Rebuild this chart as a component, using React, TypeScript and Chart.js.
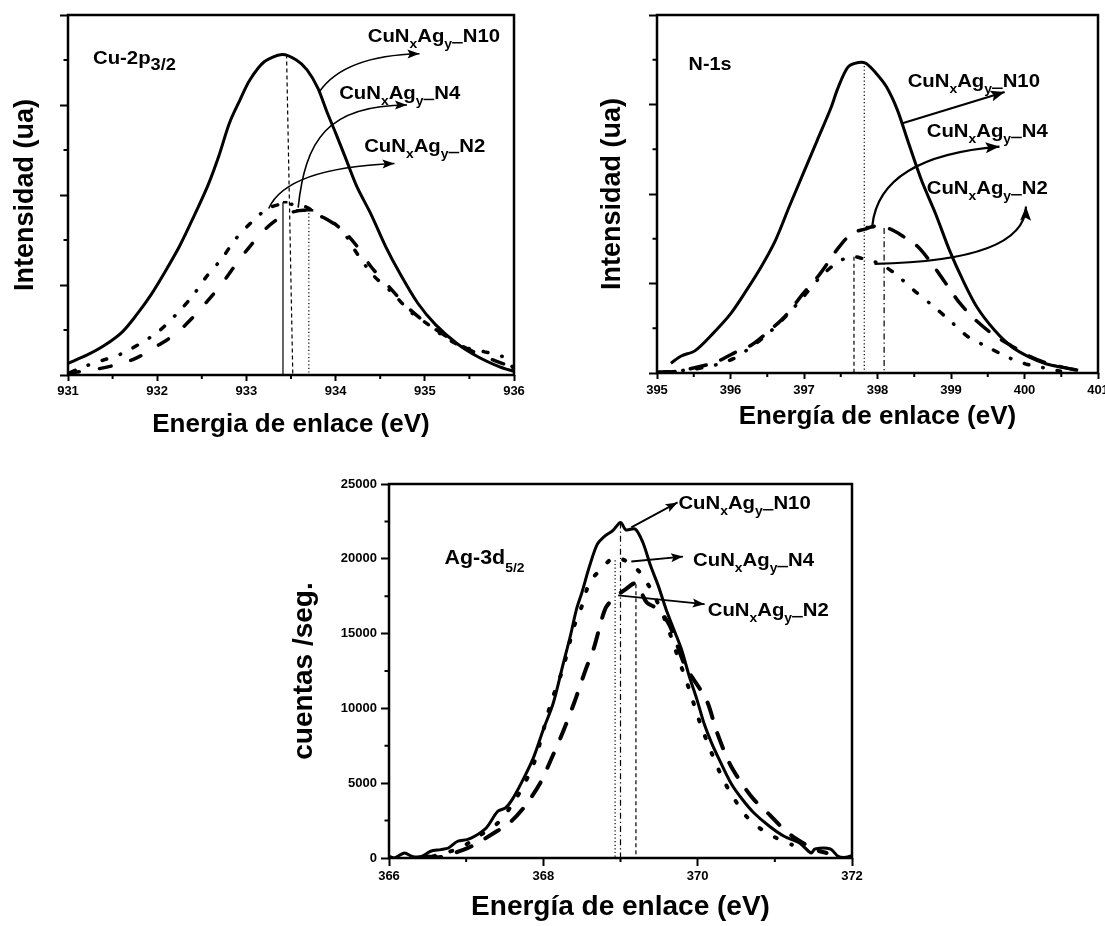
import React, { useEffect, useRef } from 'react';
import { Chart, registerables } from 'chart.js';

Chart.register(...registerables);

const FONT = '"Liberation Sans", Arial, Helvetica, sans-serif';
Chart.defaults.font.family = FONT;
Chart.defaults.color = '#000';

const SERIES = ['N10', 'N4', 'N2'];

// ---------- Panel 1 : Cu-2p3/2 ----------
const cuN10X = [931, 931.21, 931.41, 931.61, 931.77, 931.93, 932.09, 932.25, 932.41, 932.57, 932.69, 932.81, 932.93, 933.04, 933.2, 933.4, 933.56, 933.68, 933.8, 933.9, 934.0, 934.12, 934.24, 934.4, 934.56, 934.72, 934.92, 935.12, 935.36, 935.6, 935.84, 936];
const cuN10Y = [0.13, 0.22, 0.33, 0.48, 0.67, 0.89, 1.15, 1.43, 1.76, 2.11, 2.43, 2.8, 3.06, 3.28, 3.48, 3.56, 3.5, 3.39, 3.19, 2.93, 2.69, 2.39, 2.09, 1.78, 1.43, 1.13, 0.8, 0.56, 0.35, 0.2, 0.09, 0.04];
const cuN4X = [931, 931.29, 931.53, 931.77, 932.01, 932.21, 932.41, 932.57, 932.73, 932.89, 933.04, 933.2, 933.36, 933.48, 933.64, 933.76, 933.92, 934.08, 934.24, 934.4, 934.6, 934.8, 935.0, 935.24, 935.44, 935.68, 935.92, 936];
const cuN4Y = [0.02, 0.06, 0.11, 0.19, 0.33, 0.46, 0.65, 0.83, 1.02, 1.24, 1.43, 1.61, 1.74, 1.8, 1.83, 1.8, 1.72, 1.61, 1.43, 1.2, 0.98, 0.76, 0.59, 0.43, 0.31, 0.2, 0.11, 0.07];
const cuN2X = [931.03, 931.17, 931.41, 931.61, 931.81, 932.01, 932.21, 932.39, 932.55, 932.73, 932.87, 933.06, 933.24, 933.42, 933.66, 933.84, 933.98, 934.1, 934.24, 934.42, 934.64, 934.84, 935.04, 935.24, 935.44, 935.66, 935.88, 936];
const cuN2Y = [0.03, 0.09, 0.17, 0.24, 0.35, 0.48, 0.67, 0.87, 1.09, 1.3, 1.5, 1.7, 1.85, 1.9, 1.87, 1.76, 1.69, 1.57, 1.35, 1.11, 0.91, 0.7, 0.56, 0.41, 0.31, 0.26, 0.2, 0.07];
const cuXMinor = [931.5, 932.5, 933.5, 934.5, 935.5];
const cuYMinor = [0.5, 1.5, 2.5, 3.5];
const cuLabelX = [934.36, 934.04, 934.32];
const cuLabelY = [3.7, 3.07, 2.48];
const cuArrows = [
  [933.82, 3.15, 934.1, 3.55, 934.94, 3.57],
  [933.58, 1.86, 933.66, 2.6, 933.9, 3.0, 934.8, 3.0],
  [933.25, 1.85, 933.45, 2.3, 934.66, 2.35],
];
const cuMarks = [
  [933.41, 1.92, 933.41, 0],
  [933.45, 3.56, 933.52, 0],
  [933.7, 1.8, 933.7, 0],
];
const cuMarkStyles = ['solid', 'dash', 'dot'];
const cuCaps = [
  [933.41, 933.46, 1.92],
  [933.56, 933.75, 1.83],
];
const cuPanelPos = [931.28, 3.46];

// ---------- Panel 2 : N-1s ----------
const nN10X = [395.19, 395.33, 395.52, 395.76, 396.0, 396.23, 396.42, 396.61, 396.8, 396.99, 397.18, 397.37, 397.46, 397.6, 397.74, 397.84, 397.98, 398.12, 398.27, 398.41, 398.6, 398.79, 398.98, 399.16, 399.35, 399.59, 399.83, 400.06, 400.3, 400.54, 400.73];
const nN10Y = [0.11, 0.19, 0.25, 0.44, 0.66, 0.94, 1.19, 1.48, 1.86, 2.23, 2.6, 2.97, 3.18, 3.42, 3.47, 3.46, 3.35, 3.2, 2.94, 2.6, 2.15, 1.78, 1.37, 1.04, 0.74, 0.48, 0.29, 0.18, 0.1, 0.06, 0.03];
const nN4X = [395.02, 395.28, 395.57, 395.8, 396.04, 396.28, 396.51, 396.75, 396.99, 397.22, 397.46, 397.65, 397.84, 397.96, 398.17, 398.36, 398.55, 398.74, 398.93, 399.12, 399.35, 399.59, 399.83, 400.06, 400.3, 400.54, 400.73];
const nN4Y = [0.01, 0.02, 0.07, 0.12, 0.22, 0.31, 0.46, 0.64, 0.89, 1.11, 1.39, 1.56, 1.61, 1.64, 1.61, 1.52, 1.41, 1.22, 1.0, 0.78, 0.58, 0.42, 0.3, 0.19, 0.11, 0.06, 0.03];
const nN2X = [395.09, 395.47, 395.8, 396.04, 396.28, 396.51, 396.75, 396.99, 397.22, 397.46, 397.65, 397.79, 398.03, 398.24, 398.5, 398.74, 398.98, 399.24, 399.5, 399.76, 400.02, 400.25, 400.49];
const nN2Y = [0.01, 0.04, 0.09, 0.16, 0.29, 0.44, 0.63, 0.85, 1.07, 1.24, 1.3, 1.28, 1.22, 1.11, 0.92, 0.76, 0.59, 0.4, 0.29, 0.18, 0.1, 0.06, 0.02];
const nXMinor = [395.5, 396.5, 397.5, 398.5, 399.5, 400.5];
const nYMinor = [0.5, 1.5, 2.5, 3.5];
const nLabelX = [398.41, 398.67, 398.67];
const nLabelY = [3.19, 2.64, 2.0];
const nArrows = [
  [398.34, 2.79, 399.73, 3.14],
  [397.93, 1.65, 398.03, 2.42, 399.66, 2.53],
  [397.96, 1.22, 400.0, 1.25, 400.02, 1.86],
];
const nMarks = [
  [397.68, 1.3, 397.68, 0],
  [397.82, 3.47, 397.82, 0],
  [398.09, 1.62, 398.09, 0],
];
const nMarkStyles = ['dash', 'dot', 'dashdot'];
const nCaps = [[397.84, 397.96, 1.63]];
const nPanelPos = [395.43, 3.38];

// ---------- Panel 3 : Ag-3d5/2 ----------
const agN10X = [366, 366.07, 366.2, 366.3, 366.42, 366.54, 366.67, 366.77, 366.89, 367.01, 367.11, 367.26, 367.41, 367.51, 367.61, 367.76, 367.88, 368.0, 368.13, 368.25, 368.35, 368.43, 368.5, 368.6, 368.7, 368.8, 368.9, 369.0, 369.07, 369.19, 369.29, 369.39, 369.49, 369.59, 369.69, 369.79, 369.89, 369.99, 370.08, 370.18, 370.28, 370.43, 370.58, 370.73, 370.93, 371.12, 371.32, 371.47, 371.52, 371.72, 371.82, 371.92, 372];
const agN10Y = [110, 0, 335, 110, 110, 450, 560, 670, 1120, 1230, 1450, 2010, 3125, 3350, 4020, 5470, 6810, 8590, 10380, 12830, 14840, 16630, 17750, 19530, 20980, 21540, 21880, 22430, 21940, 21990, 21090, 19530, 18190, 16630, 15290, 13950, 12170, 10600, 9040, 7700, 6580, 5020, 3910, 3010, 2120, 1450, 1000, 335, 600, 600, 110, 45, 156];
const agN4X = [366.57, 366.92, 367.16, 367.41, 367.61, 367.76, 367.88, 367.98, 368.1, 368.25, 368.4, 368.5, 368.6, 368.75, 368.93, 369.19, 369.34, 369.47, 369.59, 369.74, 369.89, 370.03, 370.18, 370.33, 370.48, 370.63, 370.83, 371.02, 371.22];
const agN4Y = [110, 670, 1450, 2340, 3680, 5020, 6360, 8150, 10380, 12610, 15510, 16850, 18420, 19310, 20100, 19420, 18420, 17190, 15740, 13500, 11270, 9040, 7030, 5250, 3910, 2790, 1900, 1340, 890];
const agN2X = [366.47, 366.67, 366.97, 367.11, 367.36, 367.56, 367.76, 367.96, 368.1, 368.25, 368.4, 368.55, 368.65, 368.8, 368.9, 369.05, 369.2, 369.34, 369.49, 369.64, 369.84, 370.11, 370.25, 370.41, 370.57, 370.73, 370.93, 371.12, 371.27, 371.52, 371.67];
const agN2Y = [110, 67, 560, 890, 1670, 2340, 3460, 5020, 6580, 8370, 10380, 12610, 13950, 16630, 17300, 17900, 18350, 17080, 16630, 15510, 12830, 10600, 8400, 6360, 5000, 3900, 2900, 1900, 1300, 560, 335];
const agXMinor = [367, 369, 371];
const agYMinor = [2500, 7500, 12500, 17500, 22500];
const agLabelX = [369.75, 369.94, 370.13];
const agLabelY = [23330, 19530, 16180];
const agArrows = [
  [369.14, 22100, 369.74, 23770],
  [369.14, 19820, 369.81, 20150],
  [368.97, 17560, 370.09, 16970],
];
const agMarks = [
  [368.93, 19900, 368.93, 0],
  [369.0, 22430, 369.0, 0],
  [369.2, 18300, 369.2, 0],
];
const agMarkStyles = ['dot', 'dashdot', 'dash'];
const agCaps: number[][] = [];
const agPanelPos = [366.72, 19640];

// ---------- drawing helpers ----------
type Run = { t?: string; size?: number; dy?: number; gap?: number };

const MARK_DASH: Record<string, number[]> = {
  solid: [],
  dash: [4, 3],
  dot: [1.2, 2.4],
  dashdot: [6, 3, 1.2, 3],
};

const STRETCH = 1.07;

function drawRich(ctx: CanvasRenderingContext2D, x: number, y: number, runs: Run[], size: number) {
  ctx.save();
  ctx.translate(x, y);
  ctx.scale(STRETCH, 1);
  ctx.textAlign = 'left';
  ctx.textBaseline = 'alphabetic';
  ctx.fillStyle = '#000';
  let cx = 0;
  for (const r of runs) {
    if (r.gap) {
      ctx.fillRect(cx, 0, r.gap, 1.5);
      cx += r.gap;
      continue;
    }
    const fs = r.size ?? size;
    ctx.font = `bold ${fs}px ${FONT}`;
    ctx.fillText(r.t || '', cx, r.dy ?? 0);
    cx += ctx.measureText(r.t || '').width;
  }
  ctx.restore();
}

function seriesRuns(name: string): Run[] {
  return [
    { t: 'CuN' },
    { t: 'x', size: 13, dy: 6 },
    { t: 'Ag' },
    { t: 'y', size: 13, dy: 6 },
    { gap: 10 },
    { t: name },
  ];
}

function arrowHead(ctx: CanvasRenderingContext2D, x: number, y: number, ang: number, len: number, half: number) {
  ctx.save();
  ctx.translate(x, y);
  ctx.rotate(ang);
  ctx.beginPath();
  ctx.moveTo(0, 0);
  ctx.lineTo(-len, -half);
  ctx.lineTo(-len * 0.8, 0);
  ctx.lineTo(-len, half);
  ctx.closePath();
  ctx.fill();
  ctx.restore();
}

type SeriesSpec = { x: number[]; y: number[]; dash: number[]; width: number };

type Spec = {
  canvas: number[];
  series: SeriesSpec[];
  xMin: number; xMax: number; xStep: number;
  yMax: number; yStep: number; yLabels: boolean;
  xMinor: number[]; yMinor: number[];
  xTickLen: number; yTickLen: number; xTickPad: number; yTickPad: number;
  xTitle: string; yTitle: string;
  xTitleSize: number; yTitleSize: number; xTitlePad: number; yTitlePad: number;
  yAxisW: number; xAxisH: number; padTop: number; padRight: number;
  panelRuns: Run[]; panelSize: number; panelPos: number[];
  labelX: number[]; labelY: number[]; labelSize: number;
  arrows: number[][]; arrowWidth: number; headLen: number; headHalf: number;
  marks: number[][]; markStyles: string[]; caps: number[][];
};

function makeDecor(spec: Spec) {
  return {
    id: 'decor',
    afterDraw(chart: any) {
      const ctx: CanvasRenderingContext2D = chart.ctx;
      const a = chart.chartArea;
      const X = (v: number) => chart.scales.x.getPixelForValue(v);
      const Y = (v: number) => chart.scales.y.getPixelForValue(v);
      ctx.save();
      ctx.strokeStyle = '#000';
      ctx.fillStyle = '#000';
      ctx.lineCap = 'butt';

      // minor ticks
      ctx.setLineDash([]);
      ctx.lineWidth = 2;
      ctx.beginPath();
      spec.xMinor.forEach((v) => {
        const p = X(v);
        ctx.moveTo(p, a.bottom);
        ctx.lineTo(p, a.bottom + 4);
      });
      spec.yMinor.forEach((v) => {
        const p = Y(v);
        ctx.moveTo(a.left, p);
        ctx.lineTo(a.left - 4.5, p);
      });
      ctx.stroke();

      // peak position markers
      ctx.lineWidth = 1.2;
      spec.marks.forEach((m, i) => {
        ctx.setLineDash(MARK_DASH[spec.markStyles[i]]);
        ctx.beginPath();
        ctx.moveTo(X(m[0]), Y(m[1]));
        ctx.lineTo(X(m[2]), Y(m[3]));
        ctx.stroke();
      });
      ctx.setLineDash([]);
      ctx.lineWidth = 2.5;
      spec.caps.forEach((c) => {
        ctx.beginPath();
        ctx.moveTo(X(c[0]), Y(c[2]));
        ctx.lineTo(X(c[1]), Y(c[2]));
        ctx.stroke();
      });

      // arrows
      ctx.lineWidth = spec.arrowWidth;
      spec.arrows.forEach((ar) => {
        const p: number[][] = [];
        for (let k = 0; k < ar.length; k += 2) p.push([X(ar[k]), Y(ar[k + 1])]);
        const end = p[p.length - 1];
        const prev = p[p.length - 2];
        const ang = Math.atan2(end[1] - prev[1], end[0] - prev[0]);
        ctx.beginPath();
        ctx.moveTo(p[0][0], p[0][1]);
        if (p.length === 2) ctx.lineTo(end[0], end[1]);
        else if (p.length === 3) ctx.quadraticCurveTo(p[1][0], p[1][1], end[0], end[1]);
        else ctx.bezierCurveTo(p[1][0], p[1][1], p[2][0], p[2][1], end[0], end[1]);
        ctx.stroke();
        arrowHead(ctx, end[0], end[1], ang, spec.headLen, spec.headHalf);
      });

      // frame
      ctx.lineWidth = 2.5;
      ctx.strokeRect(a.left, a.top, a.right - a.left, a.bottom - a.top);

      // texts
      drawRich(ctx, X(spec.panelPos[0]), Y(spec.panelPos[1]), spec.panelRuns, spec.panelSize);
      spec.labelX.forEach((lx, i) => {
        drawRich(ctx, X(lx), Y(spec.labelY[i]), seriesRuns(SERIES[i]), spec.labelSize);
      });
      ctx.restore();
    },
  };
}

const cuSpec: Spec = {
  canvas: [0, 0, 560, 445],
  series: [
    { x: cuN10X, y: cuN10Y, dash: [], width: 3 },
    { x: cuN4X, y: cuN4Y, dash: [11.5, 20.5], width: 3.5 },
    { x: cuN2X, y: cuN2Y, dash: [5, 14, 0.5, 14], width: 3.5 },
  ],
  xMin: 931, xMax: 936, xStep: 1, yMax: 4, yStep: 1, yLabels: false,
  xMinor: cuXMinor, yMinor: cuYMinor,
  xTickLen: 6, yTickLen: 8, xTickPad: 3, yTickPad: 4,
  xTitle: 'Energia de enlace (eV)', yTitle: 'Intensidad (ua)',
  xTitleSize: 26, yTitleSize: 27, xTitlePad: 5, yTitlePad: 9,
  yAxisW: 68, xAxisH: 70, padTop: 15, padRight: 46,
  panelRuns: [{ t: 'Cu-2p' }, { t: '3/2', size: 17, dy: 6 }], panelSize: 19, panelPos: cuPanelPos,
  labelX: cuLabelX, labelY: cuLabelY, labelSize: 19,
  arrows: cuArrows, arrowWidth: 1.6, headLen: 12, headHalf: 4.5,
  marks: cuMarks, markStyles: cuMarkStyles, caps: cuCaps,
};

const nSpec: Spec = {
  canvas: [560, 0, 545, 445],
  series: [
    { x: nN10X, y: nN10Y, dash: [], width: 3 },
    { x: nN4X, y: nN4Y, dash: [16.5, 15.5], width: 3.5 },
    { x: nN2X, y: nN2Y, dash: [5, 14, 0.5, 14], width: 3.5 },
  ],
  xMin: 395, xMax: 401, xStep: 1, yMax: 4, yStep: 1, yLabels: false,
  xMinor: nXMinor, yMinor: nYMinor,
  xTickLen: 6, yTickLen: 8, xTickPad: 4, yTickPad: 4,
  xTitle: 'Energía de enlace (eV)', yTitle: 'Intensidad (ua)',
  xTitleSize: 26, yTitleSize: 27, xTitlePad: 13, yTitlePad: 36,
  yAxisW: 97, xAxisH: 72, padTop: 15, padRight: 7,
  panelRuns: [{ t: 'N-1s' }], panelSize: 18.5, panelPos: nPanelPos,
  labelX: nLabelX, labelY: nLabelY, labelSize: 19,
  arrows: nArrows, arrowWidth: 2.2, headLen: 14, headHalf: 5.5,
  marks: nMarks, markStyles: nMarkStyles, caps: nCaps,
};

const agSpec: Spec = {
  canvas: [280, 460, 600, 466],
  series: [
    { x: agN10X, y: agN10Y, dash: [], width: 3 },
    { x: agN4X, y: agN4Y, dash: [2, 16], width: 4 },
    { x: agN2X, y: agN2Y, dash: [16, 16], width: 4 },
  ],
  xMin: 366, xMax: 372, xStep: 2, yMax: 25000, yStep: 5000, yLabels: true,
  xMinor: agXMinor, yMinor: agYMinor,
  xTickLen: 8, yTickLen: 8, xTickPad: 3, yTickPad: 4,
  xTitle: 'Energía de enlace (eV)', yTitle: 'cuentas /seg.',
  xTitleSize: 28, yTitleSize: 28, xTitlePad: 2, yTitlePad: 7,
  yAxisW: 109, xAxisH: 68, padTop: 24, padRight: 28,
  panelRuns: [{ t: 'Ag-3d' }, { t: '5/2', size: 13, dy: 8 }], panelSize: 20, panelPos: agPanelPos,
  labelX: agLabelX, labelY: agLabelY, labelSize: 19,
  arrows: agArrows, arrowWidth: 1.8, headLen: 12, headHalf: 4.5,
  marks: agMarks, markStyles: agMarkStyles, caps: agCaps,
};

function Panel({ spec }: { spec: Spec }) {
  const ref = useRef<HTMLCanvasElement>(null);
  useEffect(() => {
    const canvas = ref.current;
    if (!canvas) return;
    const tickFont = { family: FONT, size: 13, weight: 'bold' as const };
    const chart = new Chart(canvas, {
      type: 'line',
      data: {
        datasets: spec.series.map((s) => ({
          data: s.x.map((x, i) => ({ x, y: s.y[i] })),
          borderColor: '#000',
          backgroundColor: '#000',
          borderWidth: s.width,
          borderDash: s.dash,
          borderCapStyle: s.dash.length ? 'round' : 'butt',
          borderJoinStyle: 'round',
          pointRadius: 0,
          tension: 0.3,
          fill: false,
        })) as any,
      },
      options: {
        responsive: false,
        animation: false,
        events: [],
        layout: { padding: { left: 0, top: spec.padTop, right: spec.padRight, bottom: 0 } },
        plugins: { legend: { display: false }, tooltip: { enabled: false } },
        scales: {
          x: {
            type: 'linear',
            min: spec.xMin,
            max: spec.xMax,
            ticks: {
              stepSize: spec.xStep,
              font: tickFont,
              color: '#000',
              padding: spec.xTickPad,
              maxRotation: 0,
              autoSkip: false,
              callback: (v: any) => String(v),
            },
            grid: {
              drawOnChartArea: false,
              drawTicks: true,
              tickLength: spec.xTickLen,
              tickWidth: 2,
              tickColor: '#000',
              color: '#000',
            },
            border: { display: false },
            title: {
              display: true,
              text: spec.xTitle,
              color: '#000',
              font: { family: FONT, size: spec.xTitleSize, weight: 'bold' },
              padding: { top: 0, bottom: spec.xTitlePad },
            },
            afterFit: (s: any) => {
              s.height = spec.xAxisH;
              s.paddingLeft = 0;
              s.paddingRight = 0;
            },
          },
          y: {
            type: 'linear',
            min: 0,
            max: spec.yMax,
            ticks: {
              display: spec.yLabels,
              stepSize: spec.yStep,
              font: tickFont,
              color: '#000',
              padding: spec.yTickPad,
              callback: (v: any) => String(v),
            },
            grid: {
              drawOnChartArea: false,
              drawTicks: true,
              tickLength: spec.yTickLen,
              tickWidth: 2,
              tickColor: '#000',
              color: '#000',
            },
            border: { display: false },
            title: {
              display: true,
              text: spec.yTitle,
              color: '#000',
              font: { family: FONT, size: spec.yTitleSize, weight: 'bold' },
              padding: { top: spec.yTitlePad, bottom: 0 },
            },
            afterFit: (s: any) => {
              s.width = spec.yAxisW;
              s.paddingTop = 0;
              s.paddingBottom = 0;
            },
          },
        },
      } as any,
      plugins: [makeDecor(spec)],
    });
    return () => chart.destroy();
  }, [spec]);
  const [l, t, w, h] = spec.canvas;
  return (
    <canvas
      ref={ref}
      width={w}
      height={h}
      style={{ position: 'absolute', left: l, top: t, width: w, height: h, display: 'block' }}
    />
  );
}

export default function App() {
  return (
    <div
      style={{
        position: 'absolute',
        left: 0,
        top: 0,
        width: 1105,
        height: 926,
        overflow: 'hidden',
        background: '#fff',
      }}
    >
      <Panel spec={cuSpec} />
      <Panel spec={nSpec} />
      <Panel spec={agSpec} />
    </div>
  );
}
